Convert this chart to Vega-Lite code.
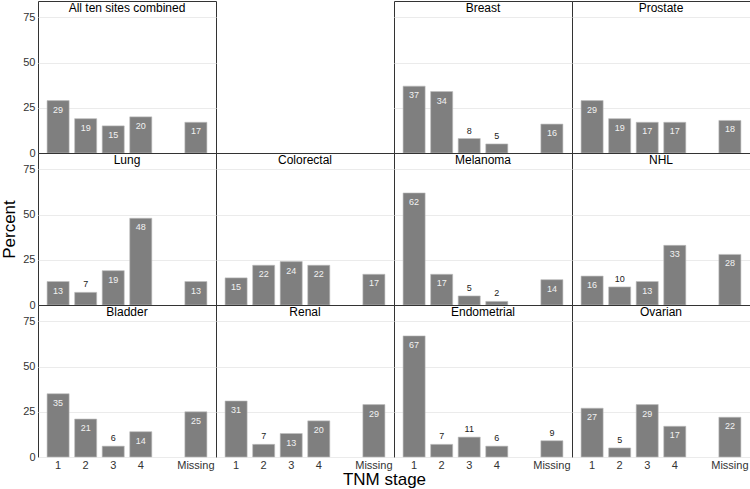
{
  "$schema": "https://vega.github.io/schema/vega-lite/v6.json",
  "padding": {"left": 0, "top": 0, "right": 0, "bottom": 0},
  "background": "white",
  "config": {
    "font": "Liberation Sans",
    "view": {"stroke": "#333333", "strokeWidth": 1},
    "axis": {"ticks": false, "domain": false, "labelFontSize": 11, "labelColor": "#333333", "gridColor": "#ebebeb", "gridWidth": 1, "titleFontWeight": "normal", "titleFontSize": 17, "titleColor": "#000000"},
    "axisY": {"labelPadding": 3},
    "axisX": {"labelPadding": 2, "labelAngle": 0},
    "title": {"frame": "group", "anchor": "middle", "offset": -14, "fontSize": 12, "fontWeight": "normal", "color": "#000000"}
  },
  "data": {"values": [
    {"site": "All ten sites combined", "stage": "1", "pct": 29},
    {"site": "All ten sites combined", "stage": "2", "pct": 19},
    {"site": "All ten sites combined", "stage": "3", "pct": 15},
    {"site": "All ten sites combined", "stage": "4", "pct": 20},
    {"site": "All ten sites combined", "stage": "Missing", "pct": 17},
    {"site": "Breast", "stage": "1", "pct": 37},
    {"site": "Breast", "stage": "2", "pct": 34},
    {"site": "Breast", "stage": "3", "pct": 8},
    {"site": "Breast", "stage": "4", "pct": 5},
    {"site": "Breast", "stage": "Missing", "pct": 16},
    {"site": "Prostate", "stage": "1", "pct": 29},
    {"site": "Prostate", "stage": "2", "pct": 19},
    {"site": "Prostate", "stage": "3", "pct": 17},
    {"site": "Prostate", "stage": "4", "pct": 17},
    {"site": "Prostate", "stage": "Missing", "pct": 18},
    {"site": "Lung", "stage": "1", "pct": 13},
    {"site": "Lung", "stage": "2", "pct": 7},
    {"site": "Lung", "stage": "3", "pct": 19},
    {"site": "Lung", "stage": "4", "pct": 48},
    {"site": "Lung", "stage": "Missing", "pct": 13},
    {"site": "Colorectal", "stage": "1", "pct": 15},
    {"site": "Colorectal", "stage": "2", "pct": 22},
    {"site": "Colorectal", "stage": "3", "pct": 24},
    {"site": "Colorectal", "stage": "4", "pct": 22},
    {"site": "Colorectal", "stage": "Missing", "pct": 17},
    {"site": "Melanoma", "stage": "1", "pct": 62},
    {"site": "Melanoma", "stage": "2", "pct": 17},
    {"site": "Melanoma", "stage": "3", "pct": 5},
    {"site": "Melanoma", "stage": "4", "pct": 2},
    {"site": "Melanoma", "stage": "Missing", "pct": 14},
    {"site": "NHL", "stage": "1", "pct": 16},
    {"site": "NHL", "stage": "2", "pct": 10},
    {"site": "NHL", "stage": "3", "pct": 13},
    {"site": "NHL", "stage": "4", "pct": 33},
    {"site": "NHL", "stage": "Missing", "pct": 28},
    {"site": "Bladder", "stage": "1", "pct": 35},
    {"site": "Bladder", "stage": "2", "pct": 21},
    {"site": "Bladder", "stage": "3", "pct": 6},
    {"site": "Bladder", "stage": "4", "pct": 14},
    {"site": "Bladder", "stage": "Missing", "pct": 25},
    {"site": "Renal", "stage": "1", "pct": 31},
    {"site": "Renal", "stage": "2", "pct": 7},
    {"site": "Renal", "stage": "3", "pct": 13},
    {"site": "Renal", "stage": "4", "pct": 20},
    {"site": "Renal", "stage": "Missing", "pct": 29},
    {"site": "Endometrial", "stage": "1", "pct": 67},
    {"site": "Endometrial", "stage": "2", "pct": 7},
    {"site": "Endometrial", "stage": "3", "pct": 11},
    {"site": "Endometrial", "stage": "4", "pct": 6},
    {"site": "Endometrial", "stage": "Missing", "pct": 9},
    {"site": "Ovarian", "stage": "1", "pct": 27},
    {"site": "Ovarian", "stage": "2", "pct": 5},
    {"site": "Ovarian", "stage": "3", "pct": 29},
    {"site": "Ovarian", "stage": "4", "pct": 17},
    {"site": "Ovarian", "stage": "Missing", "pct": 22}
  ]},
  "columns": 4,
  "spacing": 0,
  "bounds": "flush",
  "concat": [
    {"width": 178, "height": 152, "title": {"text": "All ten sites combined"},
     "transform": [{"filter": "datum.site === 'All ten sites combined'"}],
     "encoding": {
       "x": {"field": "stage", "type": "nominal", "scale": {"domain": ["1","2","3","4","gap","Missing"], "paddingInner": 0.2, "paddingOuter": 0.33}, "axis": null},
       "y": {"field": "pct", "type": "quantitative", "scale": {"domain": [0, 84.1], "nice": false}, "axis": {"values": [0,25,50,75], "title": null}}},
     "layer": [
       {"mark": {"type": "bar", "color": "#7f7f7f", "stroke": "#bdbdbd", "strokeWidth": 0.6}},
       {"transform": [{"filter": "datum.pct >= 12"}], "mark": {"type": "text", "baseline": "top", "dy": 5, "fontSize": 9, "color": "#f2f2f2"}, "encoding": {"text": {"field": "pct"}}},
       {"transform": [{"filter": "datum.pct < 12"}], "mark": {"type": "text", "baseline": "bottom", "dy": -3, "fontSize": 9, "color": "#1a1a1a"}, "encoding": {"text": {"field": "pct"}}}
     ]},
    {"width": 178, "height": 152, "view": {"stroke": null},
     "transform": [{"filter": "false"}],
     "mark": "point"},
    {"width": 178, "height": 152, "title": {"text": "Breast"},
     "transform": [{"filter": "datum.site === 'Breast'"}],
     "encoding": {
       "x": {"field": "stage", "type": "nominal", "scale": {"domain": ["1","2","3","4","gap","Missing"], "paddingInner": 0.2, "paddingOuter": 0.33}, "axis": null},
       "y": {"field": "pct", "type": "quantitative", "scale": {"domain": [0, 84.1], "nice": false}, "axis": {"values": [0,25,50,75], "title": null, "labels": false}}},
     "layer": [
       {"mark": {"type": "bar", "color": "#7f7f7f", "stroke": "#bdbdbd", "strokeWidth": 0.6}},
       {"transform": [{"filter": "datum.pct >= 12"}], "mark": {"type": "text", "baseline": "top", "dy": 5, "fontSize": 9, "color": "#f2f2f2"}, "encoding": {"text": {"field": "pct"}}},
       {"transform": [{"filter": "datum.pct < 12"}], "mark": {"type": "text", "baseline": "bottom", "dy": -3, "fontSize": 9, "color": "#1a1a1a"}, "encoding": {"text": {"field": "pct"}}}
     ]},
    {"width": 178, "height": 152, "title": {"text": "Prostate"},
     "transform": [{"filter": "datum.site === 'Prostate'"}],
     "encoding": {
       "x": {"field": "stage", "type": "nominal", "scale": {"domain": ["1","2","3","4","gap","Missing"], "paddingInner": 0.2, "paddingOuter": 0.33}, "axis": null},
       "y": {"field": "pct", "type": "quantitative", "scale": {"domain": [0, 84.1], "nice": false}, "axis": {"values": [0,25,50,75], "title": null, "labels": false}}},
     "layer": [
       {"mark": {"type": "bar", "color": "#7f7f7f", "stroke": "#bdbdbd", "strokeWidth": 0.6}},
       {"transform": [{"filter": "datum.pct >= 12"}], "mark": {"type": "text", "baseline": "top", "dy": 5, "fontSize": 9, "color": "#f2f2f2"}, "encoding": {"text": {"field": "pct"}}},
       {"transform": [{"filter": "datum.pct < 12"}], "mark": {"type": "text", "baseline": "bottom", "dy": -3, "fontSize": 9, "color": "#1a1a1a"}, "encoding": {"text": {"field": "pct"}}}
     ]},
    {"width": 178, "height": 152, "title": {"text": "Lung"},
     "transform": [{"filter": "datum.site === 'Lung'"}],
     "encoding": {
       "x": {"field": "stage", "type": "nominal", "scale": {"domain": ["1","2","3","4","gap","Missing"], "paddingInner": 0.2, "paddingOuter": 0.33}, "axis": null},
       "y": {"field": "pct", "type": "quantitative", "scale": {"domain": [0, 84.1], "nice": false}, "axis": {"values": [0,25,50,75], "title": "Percent", "titlePadding": 4}}},
     "layer": [
       {"mark": {"type": "bar", "color": "#7f7f7f", "stroke": "#bdbdbd", "strokeWidth": 0.6}},
       {"transform": [{"filter": "datum.pct >= 12"}], "mark": {"type": "text", "baseline": "top", "dy": 5, "fontSize": 9, "color": "#f2f2f2"}, "encoding": {"text": {"field": "pct"}}},
       {"transform": [{"filter": "datum.pct < 12"}], "mark": {"type": "text", "baseline": "bottom", "dy": -3, "fontSize": 9, "color": "#1a1a1a"}, "encoding": {"text": {"field": "pct"}}}
     ]},
    {"width": 178, "height": 152, "title": {"text": "Colorectal"},
     "transform": [{"filter": "datum.site === 'Colorectal'"}],
     "encoding": {
       "x": {"field": "stage", "type": "nominal", "scale": {"domain": ["1","2","3","4","gap","Missing"], "paddingInner": 0.2, "paddingOuter": 0.33}, "axis": null},
       "y": {"field": "pct", "type": "quantitative", "scale": {"domain": [0, 84.1], "nice": false}, "axis": {"values": [0,25,50,75], "title": null, "labels": false}}},
     "layer": [
       {"mark": {"type": "bar", "color": "#7f7f7f", "stroke": "#bdbdbd", "strokeWidth": 0.6}},
       {"transform": [{"filter": "datum.pct >= 12"}], "mark": {"type": "text", "baseline": "top", "dy": 5, "fontSize": 9, "color": "#f2f2f2"}, "encoding": {"text": {"field": "pct"}}},
       {"transform": [{"filter": "datum.pct < 12"}], "mark": {"type": "text", "baseline": "bottom", "dy": -3, "fontSize": 9, "color": "#1a1a1a"}, "encoding": {"text": {"field": "pct"}}}
     ]},
    {"width": 178, "height": 152, "title": {"text": "Melanoma"},
     "transform": [{"filter": "datum.site === 'Melanoma'"}],
     "encoding": {
       "x": {"field": "stage", "type": "nominal", "scale": {"domain": ["1","2","3","4","gap","Missing"], "paddingInner": 0.2, "paddingOuter": 0.33}, "axis": null},
       "y": {"field": "pct", "type": "quantitative", "scale": {"domain": [0, 84.1], "nice": false}, "axis": {"values": [0,25,50,75], "title": null, "labels": false}}},
     "layer": [
       {"mark": {"type": "bar", "color": "#7f7f7f", "stroke": "#bdbdbd", "strokeWidth": 0.6}},
       {"transform": [{"filter": "datum.pct >= 12"}], "mark": {"type": "text", "baseline": "top", "dy": 5, "fontSize": 9, "color": "#f2f2f2"}, "encoding": {"text": {"field": "pct"}}},
       {"transform": [{"filter": "datum.pct < 12"}], "mark": {"type": "text", "baseline": "bottom", "dy": -3, "fontSize": 9, "color": "#1a1a1a"}, "encoding": {"text": {"field": "pct"}}}
     ]},
    {"width": 178, "height": 152, "title": {"text": "NHL"},
     "transform": [{"filter": "datum.site === 'NHL'"}],
     "encoding": {
       "x": {"field": "stage", "type": "nominal", "scale": {"domain": ["1","2","3","4","gap","Missing"], "paddingInner": 0.2, "paddingOuter": 0.33}, "axis": null},
       "y": {"field": "pct", "type": "quantitative", "scale": {"domain": [0, 84.1], "nice": false}, "axis": {"values": [0,25,50,75], "title": null, "labels": false}}},
     "layer": [
       {"mark": {"type": "bar", "color": "#7f7f7f", "stroke": "#bdbdbd", "strokeWidth": 0.6}},
       {"transform": [{"filter": "datum.pct >= 12"}], "mark": {"type": "text", "baseline": "top", "dy": 5, "fontSize": 9, "color": "#f2f2f2"}, "encoding": {"text": {"field": "pct"}}},
       {"transform": [{"filter": "datum.pct < 12"}], "mark": {"type": "text", "baseline": "bottom", "dy": -3, "fontSize": 9, "color": "#1a1a1a"}, "encoding": {"text": {"field": "pct"}}}
     ]},
    {"width": 178, "height": 152, "title": {"text": "Bladder"},
     "transform": [{"filter": "datum.site === 'Bladder'"}],
     "encoding": {
       "x": {"field": "stage", "type": "nominal", "scale": {"domain": ["1","2","3","4","gap","Missing"], "paddingInner": 0.2, "paddingOuter": 0.33}, "axis": {"title": null, "labelExpr": "datum.value === 'gap' ? '' : datum.label"}},
       "y": {"field": "pct", "type": "quantitative", "scale": {"domain": [0, 84.1], "nice": false}, "axis": {"values": [0,25,50,75], "title": null}}},
     "layer": [
       {"mark": {"type": "bar", "color": "#7f7f7f", "stroke": "#bdbdbd", "strokeWidth": 0.6}},
       {"transform": [{"filter": "datum.pct >= 12"}], "mark": {"type": "text", "baseline": "top", "dy": 5, "fontSize": 9, "color": "#f2f2f2"}, "encoding": {"text": {"field": "pct"}}},
       {"transform": [{"filter": "datum.pct < 12"}], "mark": {"type": "text", "baseline": "bottom", "dy": -3, "fontSize": 9, "color": "#1a1a1a"}, "encoding": {"text": {"field": "pct"}}}
     ]},
    {"width": 178, "height": 152, "title": {"text": "Renal"},
     "transform": [{"filter": "datum.site === 'Renal'"}],
     "encoding": {
       "x": {"field": "stage", "type": "nominal", "scale": {"domain": ["1","2","3","4","gap","Missing"], "paddingInner": 0.2, "paddingOuter": 0.33}, "axis": {"title": "TNM stage", "titleX": 168, "titleY": 27, "titleAlign": "center", "titleBaseline": "alphabetic", "titleAnchor": null, "labelExpr": "datum.value === 'gap' ? '' : datum.label"}},
       "y": {"field": "pct", "type": "quantitative", "scale": {"domain": [0, 84.1], "nice": false}, "axis": {"values": [0,25,50,75], "title": null, "labels": false}}},
     "layer": [
       {"mark": {"type": "bar", "color": "#7f7f7f", "stroke": "#bdbdbd", "strokeWidth": 0.6}},
       {"transform": [{"filter": "datum.pct >= 12"}], "mark": {"type": "text", "baseline": "top", "dy": 5, "fontSize": 9, "color": "#f2f2f2"}, "encoding": {"text": {"field": "pct"}}},
       {"transform": [{"filter": "datum.pct < 12"}], "mark": {"type": "text", "baseline": "bottom", "dy": -3, "fontSize": 9, "color": "#1a1a1a"}, "encoding": {"text": {"field": "pct"}}}
     ]},
    {"width": 178, "height": 152, "title": {"text": "Endometrial"},
     "transform": [{"filter": "datum.site === 'Endometrial'"}],
     "encoding": {
       "x": {"field": "stage", "type": "nominal", "scale": {"domain": ["1","2","3","4","gap","Missing"], "paddingInner": 0.2, "paddingOuter": 0.33}, "axis": {"title": null, "labelExpr": "datum.value === 'gap' ? '' : datum.label"}},
       "y": {"field": "pct", "type": "quantitative", "scale": {"domain": [0, 84.1], "nice": false}, "axis": {"values": [0,25,50,75], "title": null, "labels": false}}},
     "layer": [
       {"mark": {"type": "bar", "color": "#7f7f7f", "stroke": "#bdbdbd", "strokeWidth": 0.6}},
       {"transform": [{"filter": "datum.pct >= 12"}], "mark": {"type": "text", "baseline": "top", "dy": 5, "fontSize": 9, "color": "#f2f2f2"}, "encoding": {"text": {"field": "pct"}}},
       {"transform": [{"filter": "datum.pct < 12"}], "mark": {"type": "text", "baseline": "bottom", "dy": -3, "fontSize": 9, "color": "#1a1a1a"}, "encoding": {"text": {"field": "pct"}}}
     ]},
    {"width": 178, "height": 152, "title": {"text": "Ovarian"},
     "transform": [{"filter": "datum.site === 'Ovarian'"}],
     "encoding": {
       "x": {"field": "stage", "type": "nominal", "scale": {"domain": ["1","2","3","4","gap","Missing"], "paddingInner": 0.2, "paddingOuter": 0.33}, "axis": {"title": null, "labelExpr": "datum.value === 'gap' ? '' : datum.label"}},
       "y": {"field": "pct", "type": "quantitative", "scale": {"domain": [0, 84.1], "nice": false}, "axis": {"values": [0,25,50,75], "title": null, "labels": false}}},
     "layer": [
       {"mark": {"type": "bar", "color": "#7f7f7f", "stroke": "#bdbdbd", "strokeWidth": 0.6}},
       {"transform": [{"filter": "datum.pct >= 12"}], "mark": {"type": "text", "baseline": "top", "dy": 5, "fontSize": 9, "color": "#f2f2f2"}, "encoding": {"text": {"field": "pct"}}},
       {"transform": [{"filter": "datum.pct < 12"}], "mark": {"type": "text", "baseline": "bottom", "dy": -3, "fontSize": 9, "color": "#1a1a1a"}, "encoding": {"text": {"field": "pct"}}}
     ]}
  ]
}
